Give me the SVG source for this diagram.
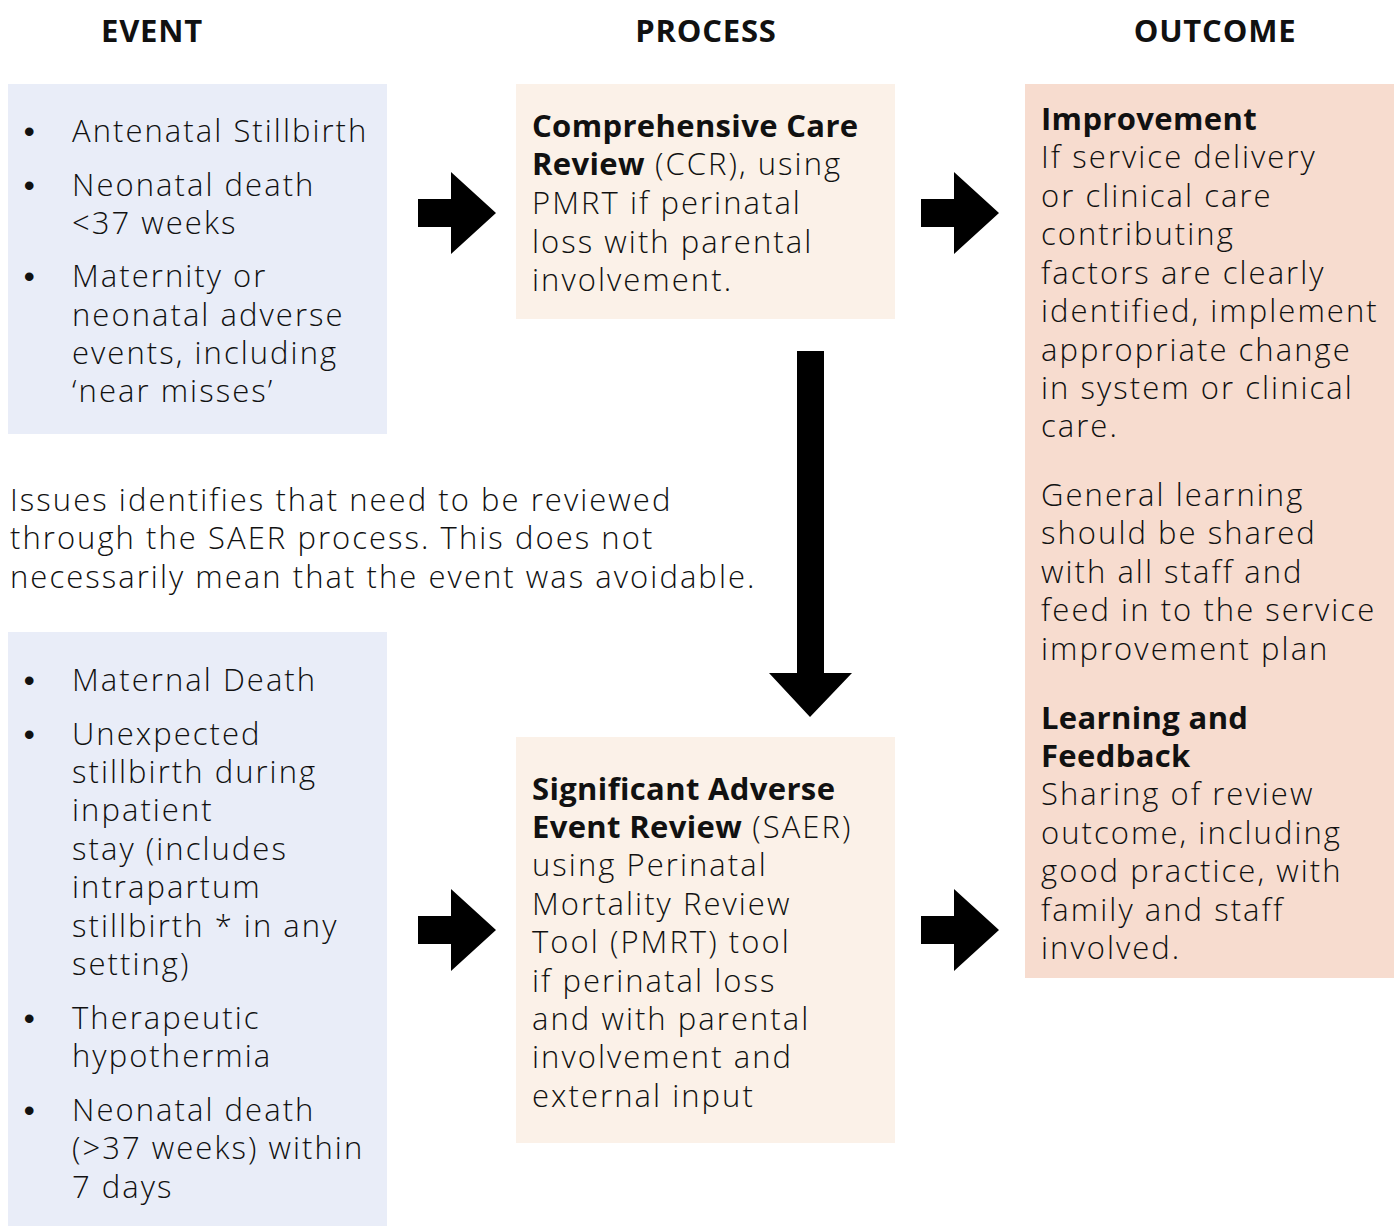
<svg xmlns="http://www.w3.org/2000/svg" width="1394" height="1226" viewBox="0 0 1394 1226">
  <defs>
    <style>
      .t { font-family: "Open Sans", "Liberation Sans", sans-serif; font-size: 31px; font-weight: 300; letter-spacing: 2.05px; fill: #111; }
      .b { font-weight: 700; letter-spacing: 0.35px; }
      .dot { font-family: "Liberation Sans", sans-serif; font-size: 30px; font-weight: 700; fill: #111; }
      .h { font-family: "Open Sans", "Liberation Sans", sans-serif; font-size: 31px; font-weight: 700; letter-spacing: 0.8px; fill: #111; text-anchor: middle; }
      .event { fill: #e9edf8; }
      .process { fill: #fbf1e8; }
      .outcome { fill: #f7dccf; }
      .arrow { fill: #000; }
    </style>
  </defs>
  <rect width="1394" height="1226" fill="#fff"/>

  <!-- column headings -->
  <g id="headings">
    <text class="h" x="152" y="42">EVENT</text>
    <text class="h" x="706" y="42">PROCESS</text>
    <text class="h" x="1215" y="42">OUTCOME</text>
  </g>

  <!-- event: comprehensive care review triggers -->
  <g id="event-ccr">
    <rect class="event" x="8" y="84" width="379" height="350"/>
    <text class="dot" x="24" y="142">•</text>
    <text class="dot" x="24" y="196">•</text>
    <text class="dot" x="24" y="287">•</text>
    <text class="t">
      <tspan x="72" y="142">Antenatal Stillbirth</tspan>
      <tspan x="72" y="196">Neonatal death</tspan>
      <tspan x="72" y="234">&lt;37 weeks</tspan>
      <tspan x="72" y="287">Maternity or</tspan>
      <tspan x="72" y="326">neonatal adverse</tspan>
      <tspan x="72" y="364">events, including</tspan>
      <tspan x="72" y="402">‘near misses’</tspan>
    </text>
  </g>

  <!-- process: comprehensive care review -->
  <g id="process-ccr">
    <rect class="process" x="516" y="84" width="379" height="235"/>
    <text class="t">
      <tspan x="532" y="137" class="b">Comprehensive Care</tspan>
      <tspan x="532" y="175"><tspan class="b">Review</tspan> (CCR), using</tspan>
      <tspan x="532" y="214">PMRT if perinatal</tspan>
      <tspan x="532" y="253">loss with parental</tspan>
      <tspan x="532" y="291">involvement.</tspan>
    </text>
  </g>

  <!-- outcome -->
  <g id="outcome">
    <rect class="outcome" x="1025" y="84" width="369" height="894"/>
    <text class="t">
      <tspan x="1041" y="130" class="b">Improvement</tspan>
      <tspan x="1041" y="168">If service delivery</tspan>
      <tspan x="1041" y="207">or clinical care</tspan>
      <tspan x="1041" y="245">contributing</tspan>
      <tspan x="1041" y="284">factors are clearly</tspan>
      <tspan x="1041" y="322">identified, implement</tspan>
      <tspan x="1041" y="361">appropriate change</tspan>
      <tspan x="1041" y="399">in system or clinical</tspan>
      <tspan x="1041" y="437">care.</tspan>
      <tspan x="1041" y="506">General learning</tspan>
      <tspan x="1041" y="544">should be shared</tspan>
      <tspan x="1041" y="583">with all staff and</tspan>
      <tspan x="1041" y="621">feed in to the service</tspan>
      <tspan x="1041" y="660">improvement plan</tspan>
      <tspan x="1041" y="729" class="b">Learning and</tspan>
      <tspan x="1041" y="767" class="b">Feedback</tspan>
      <tspan x="1041" y="805">Sharing of review</tspan>
      <tspan x="1041" y="844">outcome, including</tspan>
      <tspan x="1041" y="882">good practice, with</tspan>
      <tspan x="1041" y="921">family and staff</tspan>
      <tspan x="1041" y="959">involved.</tspan>
    </text>
  </g>

  <!-- escalation note -->
  <g id="note">
    <text class="t">
      <tspan x="10" y="511">Issues identifies that need to be reviewed</tspan>
      <tspan x="10" y="549">through the SAER process. This does not</tspan>
      <tspan x="10" y="588">necessarily mean that the event was avoidable.</tspan>
    </text>
  </g>

  <!-- event: significant adverse event review triggers -->
  <g id="event-saer">
    <rect class="event" x="8" y="632" width="379" height="594"/>
    <text class="dot" x="24" y="691">•</text>
    <text class="dot" x="24" y="745">•</text>
    <text class="dot" x="24" y="1029">•</text>
    <text class="dot" x="24" y="1121">•</text>
    <text class="t">
      <tspan x="72" y="691">Maternal Death</tspan>
      <tspan x="72" y="745">Unexpected</tspan>
      <tspan x="72" y="783">stillbirth during</tspan>
      <tspan x="72" y="821">inpatient</tspan>
      <tspan x="72" y="860">stay (includes</tspan>
      <tspan x="72" y="898">intrapartum</tspan>
      <tspan x="72" y="937">stillbirth * in any</tspan>
      <tspan x="72" y="975">setting)</tspan>
      <tspan x="72" y="1029">Therapeutic</tspan>
      <tspan x="72" y="1067">hypothermia</tspan>
      <tspan x="72" y="1121">Neonatal death</tspan>
      <tspan x="72" y="1159">(&gt;37 weeks) within</tspan>
      <tspan x="72" y="1198">7 days</tspan>
    </text>
  </g>

  <!-- process: significant adverse event review -->
  <g id="process-saer">
    <rect class="process" x="516" y="737" width="379" height="406"/>
    <text class="t">
      <tspan x="532" y="800" class="b">Significant Adverse</tspan>
      <tspan x="532" y="838"><tspan class="b">Event Review</tspan> (SAER)</tspan>
      <tspan x="532" y="876">using Perinatal</tspan>
      <tspan x="532" y="915">Mortality Review</tspan>
      <tspan x="532" y="953">Tool (PMRT) tool</tspan>
      <tspan x="532" y="992">if perinatal loss</tspan>
      <tspan x="532" y="1030">and with parental</tspan>
      <tspan x="532" y="1068">involvement and</tspan>
      <tspan x="532" y="1107">external input</tspan>
    </text>
  </g>

  <!-- block arrows -->
  <g id="connectors">
    <path id="arrow-event-ccr" class="arrow" d="M418,199 H451 V172 L496,213 L451,254 V227 H418 Z"/>
    <path id="arrow-ccr-outcome" class="arrow" d="M921,199 H954 V172 L999,213 L954,254 V227 H921 Z"/>
    <path id="arrow-ccr-saer" class="arrow" d="M797,351 H824 V673 H852 L810,717 L769,673 H797 Z"/>
    <path id="arrow-event-saer" class="arrow" d="M418,916 H451 V889 L496,930 L451,971 V944 H418 Z"/>
    <path id="arrow-saer-outcome" class="arrow" d="M921,916 H954 V889 L999,930 L954,971 V944 H921 Z"/>
  </g>
</svg>
